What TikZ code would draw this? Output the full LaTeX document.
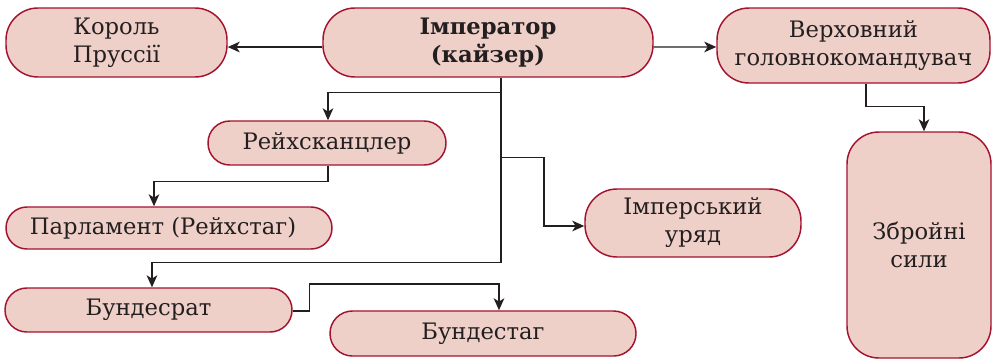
\documentclass[tikz,border=0pt]{standalone}
\usepackage{fontspec}
\setmainfont{DejaVu Serif}
\usetikzlibrary{arrows.meta}
\definecolor{boxfill}{HTML}{EFD0C8}
\definecolor{boxline}{HTML}{A3122E}
\definecolor{ink}{HTML}{231F20}
\tikzset{
  orgbox/.style={draw=boxline, fill=boxfill, line width=1.1pt, text=ink,
    align=center, inner sep=0pt, font=\fontsize{17}{21}\selectfont},
  arr/.style={draw=ink, line width=1pt, -{Stealth[length=9pt,width=8pt,inset=2.5pt]}}
}
\begin{document}
\begin{tikzpicture}[x=0.75pt,y=-0.75pt]
\useasboundingbox (0,0) rectangle (993,361);
% nodes (sizes in pt = px*0.75)
\node[orgbox, rounded corners=24pt, minimum width=165.75pt, minimum height=51.75pt] (korol) at (116.5,42.5) {Король\\Пруссії};
\node[orgbox, rounded corners=24pt, minimum width=247.5pt, minimum height=51.75pt] (imp) at (488,42.5) {\bfseries Імператор\\\bfseries (кайзер)};
\node[orgbox, rounded corners=24pt, minimum width=204.75pt, minimum height=56.25pt] (verh) at (853.5,45.5) {Верховний\\головнокомандувач};
\node[orgbox, rounded corners=16.4pt, minimum width=178.5pt, minimum height=33pt] (reich) at (327,143) {Рейхсканцлер};
\node[orgbox, rounded corners=15.7pt, minimum width=244.5pt, minimum height=31.5pt] (parl) at (169,228) {Парламент (Рейхстаг)\hspace*{9pt}};
\node[orgbox, rounded corners=24pt, minimum width=162pt, minimum height=51pt] (uryad) at (693,223) {Імперський\\уряд};
\node[orgbox, rounded corners=24pt, minimum width=108pt, minimum height=169.5pt] (zbr) at (919,245) {Збройні\\сили};
\node[orgbox, rounded corners=16.4pt, minimum width=215.25pt, minimum height=33pt] (brat) at (148.5,310) {Бундесрат};
\node[orgbox, rounded corners=16.8pt, minimum width=229.5pt, minimum height=33.75pt] (btag) at (483,333.5) {Бундестаг};
% connectors
\draw[arr] ([yshift=-3.4pt]imp.west) -- ([yshift=-3.4pt]korol.east);
\draw[arr] ([yshift=-3.4pt]imp.east) -- ([yshift=-1.1pt]verh.west);
\draw[arr] ([xshift=9.75pt]imp.south) -- ++(0,185) -| ([xshift=2.6pt]brat.north);
\draw[arr] ([xshift=9.75pt,yshift=-11.25pt]imp.south) -| ([xshift=0.75pt]reich.north);
\draw[arr] ([xshift=9.75pt,yshift=-60pt]imp.south) -- ++(43,0) |- ([yshift=-2.25pt]uryad.west);
\draw[arr] ([xshift=0.75pt]reich.south) -- ++(0,16) -| ([xshift=-11.25pt]parl.north);
\draw[arr] ([xshift=9.4pt]verh.south) -- ++(0,23) -| ([xshift=3.75pt]zbr.north);
\draw[arr] ([yshift=-0.75pt]brat.east) -- ++(17,0) -- ++(0,-27) -| ([xshift=12pt]btag.north);
\end{tikzpicture}
\end{document}
